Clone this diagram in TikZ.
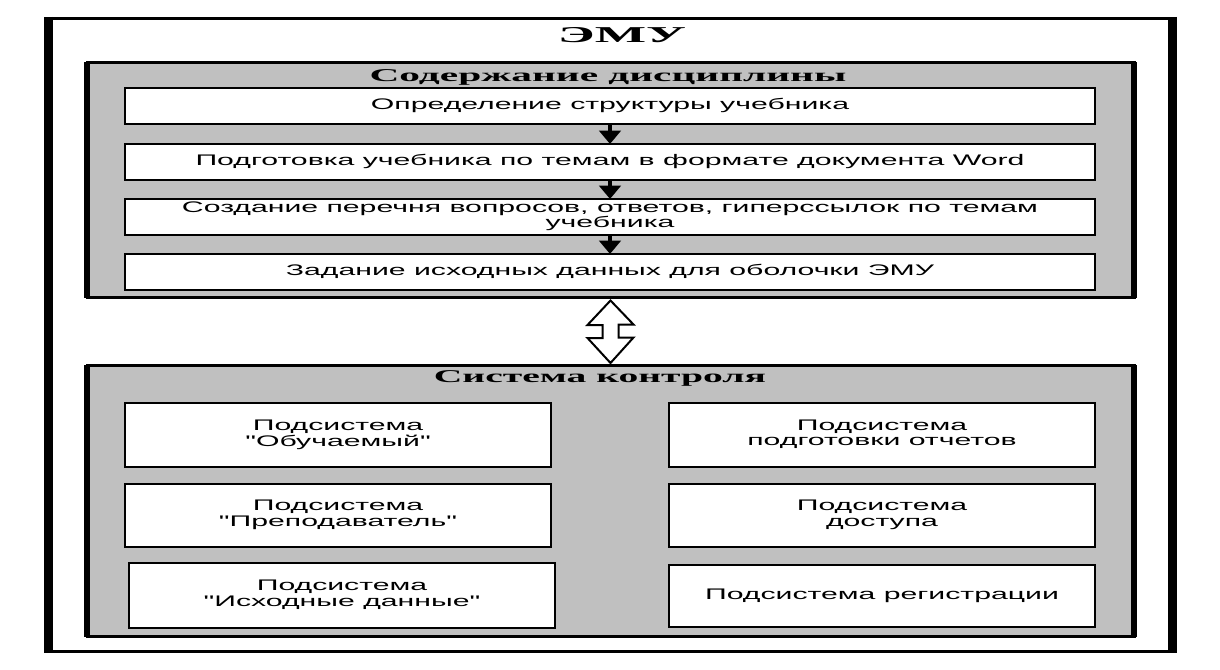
\documentclass[tikz,border=0pt]{standalone}
\usepackage{fontspec}
\usepackage{graphicx}
\setmainfont{Liberation Sans}[Ligatures=TeXOff]
\newfontfamily\headfont{Liberation Serif}
\usetikzlibrary{calc,arrows.meta}

\definecolor{panelgray}{RGB}{192,192,192}
\newcommand{\wide}[2][1.97]{\scalebox{#1}[1]{\begin{tabular}{@{}c@{}}#2\end{tabular}}}
\newcommand{\boxfont}{\fontsize{11.5}{11.5}\selectfont}

\tikzset{
	boxsize/.style 2 args={minimum width=#1*0.75pt, minimum height=#2*0.75pt},
	box/.style={draw, fill=white, line width=1.5pt, inner sep=0pt, outer sep=0pt, font=\boxfont},
	panel/.style={draw, fill=panelgray, line width=2.25pt, inner sep=0pt, outer sep=0pt},
	heading/.style={font=\headfont\bfseries\fontsize{13.5}{14}\selectfont},
	flow/.style={line width=3pt, -{Triangle[width=16pt,length=10pt]}},
	link/.style={draw, fill=white, line width=1.5pt, line join=miter}
}

\begin{document}
\begin{tikzpicture}[x=0.75pt, y=-0.75pt]
\useasboundingbox (0,0) rectangle (1220,670);
% frame
\draw[line width=2.25pt] (45.5,18.5) rectangle (1175.5,651.5);
\draw[line width=6.75pt] (48.5,17) -- (48.5,653) (1172.5,17) -- (1172.5,653);
\node[heading, font=\headfont\bfseries\fontsize{17}{18}\selectfont] (emu) at (622,38) {\wide[2.4]{ЭМУ}};

% content of the course
\node[panel, boxsize={1047}{235}] (content) at (610.5,180) {};
\draw[line width=4.5pt] (content.north west) -- (content.south west)
	(content.north east) -- (content.south east);
\node[heading] (contenthead) at (608,78) {\wide[2.3]{Содержание дисциплины}};
\node[box, boxsize={970}{36}] (s1) at (610,106) {\wide{Определение структуры учебника}};
\node[box, boxsize={970}{36}] (s2) at (610,162) {\wide{Подготовка учебника по темам в формате документа Word}};
\node[box, boxsize={970}{36}] (s3) at (610,217) {\wide{Создание перечня вопросов, ответов, гиперссылок по темам\\учебника}};
\node[box, boxsize={970}{36}] (s4) at (610,272) {\wide{Задание исходных данных для оболочки ЭМУ}};
\foreach \a/\b in {s1/s2, s2/s3, s3/s4}
	\draw[flow] (\a) -- (\b);

% control system
\node[panel, boxsize={1047}{271.5}] (control) at (610.5,500.75) {};
\draw[line width=4.5pt] (control.north west) -- (control.south west)
	(control.north east) -- (control.south east);
\node[heading] (controlhead) at (600,379) {\wide[2.2]{Система контроля}};
\node[box, boxsize={426}{64}] (learner) at (338,435) {\wide{Подсистема\\"Обучаемый"}};
\node[box, boxsize={426}{63}] (teacher) at (338,515.5) {\wide{Подсистема\\"Преподаватель"}};
\node[box, boxsize={426}{65}] (source) at (342,595.5) {\wide{Подсистема\\"Исходные данные"}};
\node[box, boxsize={426}{64}] (reports) at (882,435) {\wide{Подсистема\\подготовки отчетов}};
\node[box, boxsize={426}{63}] (access) at (882,515.5) {\wide{Подсистема\\доступа}};
\node[box, boxsize={426}{62}] (register) at (882,596) {\wide{Подсистема регистрации}};

% two-way link
\draw[link] ($(content.south)+(0,3)$) -- ++(23,24) -- ++(-15,0) -- ++(0,13) -- ++(15,0)
	-- ($(control.north)+(0,-2)$) -- ++(-23,-25) -- ++(15,0) -- ++(0,-13) -- ++(-15,0) -- cycle;
\end{tikzpicture}
\end{document}
